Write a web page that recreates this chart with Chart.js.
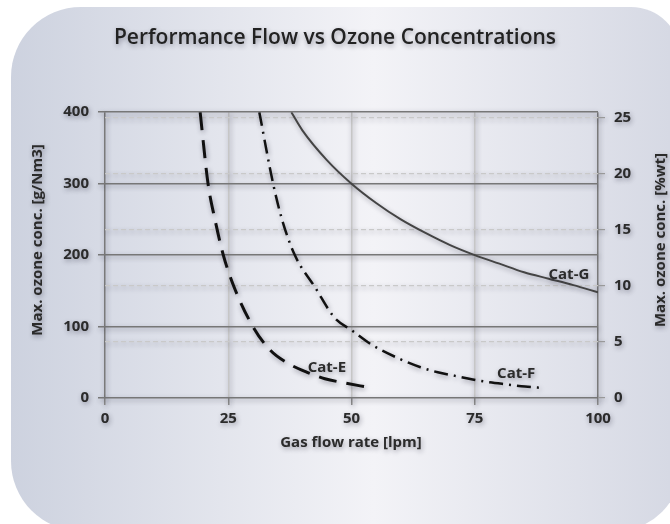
<!DOCTYPE html>
<html>
<head>
<meta charset="utf-8">
<script src="https://cdn.jsdelivr.net/npm/chart.js@4.4.0/dist/chart.umd.min.js"></script>
<style>
  html, body { margin: 0; padding: 0; background: #fff; }
</style>
</head>
<body>
<canvas id="ozoneChart" width="670" height="524"></canvas>
<script>
// values: gas flow [lpm] -> max ozone conc. [g/Nm3]
var catEFlow = [19.3, 20.9, 22.3, 24, 26.2, 30, 33.5, 37, 41, 44.6, 48.7, 53.3];
var catEConc = [400, 300, 250, 200, 155, 100, 67, 49, 36, 27, 21, 15];

var catFFlow = [31.3, 34.1, 35.9, 38.5, 42.6, 46.6, 50, 54, 60, 64, 67.5, 71, 74.6, 78, 81.5, 85.2, 88.8];
var catFConc = [400, 300, 250, 200, 155, 112, 95, 75, 54, 43, 36, 31, 26, 22, 19, 16, 14];

var catGFlow = [37.8, 40, 45, 50, 55, 60, 65, 70, 75, 80, 85, 90, 95, 100];
var catGConc = [400, 375, 333, 300, 273, 250, 231, 214, 200, 188, 176, 167, 158, 148];

var flowTicks = [0, 25, 50, 75, 100];
var gramTicks = [0, 100, 200, 300, 400];
var weightTicks = [0, 5, 10, 15, 20, 25];

function points(xs, ys) {
    return xs.map(function(x, i) { return { x: x, y: ys[i] }; });
}

Chart.defaults.font.family = "'Open Sans', sans-serif";
Chart.defaults.color = '#2b2b2b';

var tickFont = { size: 15, weight: '700' };

// panel behind the chart, soft shadow on everything drawn on top of it
var panelPlugin = {
    id: 'panel',
    beforeDraw: function(chart) {
        var ctx = chart.ctx;
        var x = 11, y = 7, r = 681, b = 531;
        ctx.save();
        ctx.beginPath();
        ctx.moveTo(x + 70, y);
        ctx.lineTo(r - 50, y);
        ctx.arcTo(r, y, r, y + 50, 50);
        ctx.lineTo(r, b - 65);
        ctx.arcTo(r, b, r - 65, b, 65);
        ctx.lineTo(x + 70, b);
        ctx.arcTo(x, b, x, b - 70, 70);
        ctx.lineTo(x, y + 70);
        ctx.arcTo(x, y, x + 70, y, 70);
        ctx.closePath();
        var g = ctx.createLinearGradient(x, 0, 670, 0);
        g.addColorStop(0, '#cdd2df');
        g.addColorStop(0.55, '#f3f3f7');
        g.addColorStop(1, '#d6d9e4');
        ctx.fillStyle = g;
        ctx.fill();
        ctx.restore();

        ctx.save();
        ctx.shadowColor = 'rgba(30, 30, 50, 0.4)';
        ctx.shadowBlur = 5;
        ctx.shadowOffsetX = 1;
        ctx.shadowOffsetY = 2;
    },
    afterDraw: function(chart) {
        var ctx = chart.ctx;
        var xs = chart.scales.x, ys = chart.scales.y;

        ctx.fillStyle = '#2b2b2b';
        ctx.font = "700 15px 'Open Sans', sans-serif";
        ctx.textAlign = 'center';
        ctx.textBaseline = 'middle';
        ctx.fillText('Gas flow rate [lpm]', 351, 443);

        ctx.save();
        ctx.translate(38, 240);
        ctx.rotate(-Math.PI / 2);
        ctx.fillText('Max. ozone conc. [g/Nm3]', 0, 0);
        ctx.restore();

        ctx.save();
        ctx.translate(661, 240);
        ctx.rotate(-Math.PI / 2);
        ctx.fillText('Max. ozone conc. [%wt]', 0, 0);
        ctx.restore();

        // curve names, anchored in data units
        var names = [['Cat-E', 45, 42], ['Cat-F', 83.4, 33.5], ['Cat-G', 94.1, 173]];
        names.forEach(function(n) {
            ctx.fillText(n[0], xs.getPixelForValue(n[1]), ys.getPixelForValue(n[2]));
        });

        ctx.restore();
    }
};

var ctx = document.getElementById('ozoneChart').getContext('2d');
var ozoneChart = new Chart(ctx, {
    type: 'scatter',
    data: {
        datasets: [{
            label: 'Cat-E',
            data: points(catEFlow, catEConc),
            showLine: true,
            borderColor: '#111',
            borderWidth: 3,
            borderDash: [18, 10],
            pointRadius: 0,
            cubicInterpolationMode: 'monotone'
        }, {
            label: 'Cat-F',
            data: points(catFFlow, catFConc),
            showLine: true,
            borderColor: '#111',
            borderWidth: 2.5,
            borderDash: [14, 6, 2, 6],
            pointRadius: 0,
            cubicInterpolationMode: 'monotone'
        }, {
            label: 'Cat-G',
            data: points(catGFlow, catGConc),
            showLine: true,
            borderColor: '#444',
            borderWidth: 2,
            pointRadius: 0,
            cubicInterpolationMode: 'monotone'
        }]
    },
    options: {
        responsive: false,
        animation: false,
        devicePixelRatio: 1,
        layout: { padding: 0 },
        plugins: {
            legend: { display: false },
            tooltip: { enabled: false },
            title: {
                display: true,
                text: 'Performance Flow vs Ozone Concentrations',
                color: '#222',
                font: { size: 21, weight: '600' },
                padding: { top: 25, bottom: 62 }
            }
        },
        scales: {
            x: {
                type: 'linear',
                min: 0,
                max: 100,
                afterBuildTicks: function(s) { s.ticks = flowTicks.map(function(v) { return { value: v }; }); },
                afterFit: function(s) { s.height = 126; },
                ticks: { font: tickFont, padding: 5 },
                border: { display: false },
                grid: {
                    tickLength: 7,
                    lineWidth: 1.5,
                    color: function(c) { return (c.tick && (c.tick.value === 0 || c.tick.value === 100)) ? '#7a7a7a' : '#c6c6c6'; },
                    tickColor: '#8a8a8a'
                }
            },
            y: {
                position: 'left',
                min: 0,
                max: 400,
                afterBuildTicks: function(s) { s.ticks = gramTicks.map(function(v) { return { value: v }; }); },
                afterFit: function(s) { s.width = 105; },
                ticks: { font: tickFont, padding: 9 },
                border: { display: false },
                grid: { tickLength: 7, lineWidth: 1.5, color: '#777', tickColor: '#777' }
            },
            y2: {
                position: 'right',
                min: 0,
                max: 25.5,
                afterBuildTicks: function(s) { s.ticks = weightTicks.map(function(v) { return { value: v }; }); },
                afterFit: function(s) { s.width = 72; },
                ticks: { font: tickFont, padding: 9 },
                border: { display: false, dash: [5, 3] },
                grid: {
                    tickLength: 7,
                    lineWidth: 1.2,
                    color: function(c) { return (c.tick && c.tick.value === 0) ? 'rgba(0,0,0,0)' : '#c9c9c9'; },
                    tickColor: '#999'
                }
            }
        }
    },
    plugins: [panelPlugin]
});
</script>
</body>
</html>
